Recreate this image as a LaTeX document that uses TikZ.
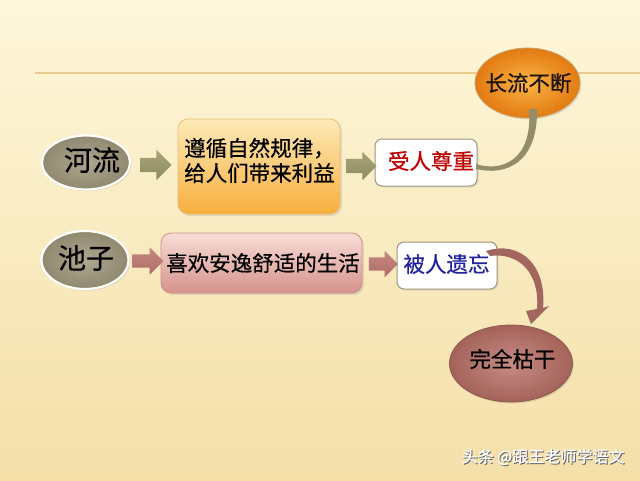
\documentclass[tikz,border=0pt]{standalone}
\usepackage{fontspec}
\setmainfont{Noto Sans CJK SC}[BoldFont={Noto Sans CJK SC}, BoldFeatures={FakeBold=0.6}]
\usetikzlibrary{shapes.geometric,shapes.arrows,shadows}
\definecolor{bgtop}{HTML}{FEF7DA}
\definecolor{bgbot}{HTML}{F4DFA8}
\definecolor{hline}{HTML}{E9C98E}
\definecolor{ovin}{HTML}{AEA68F}
\definecolor{ovout}{HTML}{90886F}
\definecolor{olive}{HTML}{8E8B60}
\definecolor{oliveL}{HTML}{A8A57A}
\definecolor{rose}{HTML}{AE6C64}
\definecolor{roseL}{HTML}{C48A82}
\definecolor{orTop}{HTML}{FDEAB8}
\definecolor{orBot}{HTML}{F8AE3C}
\definecolor{orBd}{HTML}{E9BC78}
\definecolor{pkTop}{HTML}{F7DDD6}
\definecolor{pkBot}{HTML}{D6928C}
\definecolor{pkBd}{HTML}{C99088}
\definecolor{wbd}{HTML}{9C9582}
\definecolor{redtxt}{HTML}{C00000}
\definecolor{bluetxt}{HTML}{2323A0}
\definecolor{clIn}{HTML}{FBB444}
\definecolor{clOut}{HTML}{E27A12}
\definecolor{clBd}{HTML}{C9A267}
\definecolor{kgIn}{HTML}{C68C84}
\definecolor{kgOut}{HTML}{A4625A}
\definecolor{kgBd}{HTML}{8E5A4C}
\definecolor{rib1}{HTML}{938D6C}
\definecolor{rib2}{HTML}{A2665E}
\begin{document}
\begin{tikzpicture}[x=1pt,y=-1pt,
  oval/.style={ellipse, draw=white, line width=2.2pt, inner sep=0pt,
    drop shadow={opacity=0.25, shadow xshift=1.5pt, shadow yshift=-1.5pt}},
  softoval/.style={ellipse, line width=0.8pt, inner sep=0pt,
    drop shadow={opacity=0.2, shadow xshift=1.5pt, shadow yshift=-1.5pt}},
  gradbox/.style={rectangle, rounded corners=10pt, line width=0.8pt, inner sep=0pt,
    drop shadow={opacity=0.2, shadow xshift=2pt, shadow yshift=-2pt}},
  whitebox/.style={rectangle, rounded corners=7pt, draw=wbd, fill=white, line width=1pt, inner sep=0pt,
    drop shadow={opacity=0.15, shadow xshift=1.5pt, shadow yshift=-1.5pt}},
  blockarrow/.style={single arrow, inner xsep=0pt, single arrow head indent=0pt},
  big/.style={font=\fontsize{28}{32}\selectfont\bfseries, inner sep=0pt},
  txt/.style={font=\fontsize{21.5}{25}\selectfont\bfseries, inner sep=0pt},
  wm/.style={font=\fontsize{16}{18}\selectfont\bfseries, inner sep=0pt}
]
\useasboundingbox (0,0) rectangle (640,480);
\shade[top color=bgtop, bottom color=bgbot] (0,0) rectangle (640,480);
\draw[hline, line width=1.2pt] (35,73) -- (640,73);

% left ellipses
\node[oval, minimum width=88pt, minimum height=54pt, inner color=ovin, outer color=ovout] (hl) at (86,162.5) {};
\node[big] (hlt) at (92,160) {河流};
\node[oval, minimum width=87pt, minimum height=58pt, inner color=ovin, outer color=ovout] (cz) at (85,260) {};
\node[big] (czt) at (86,258) {池子};

% boxes
\node[gradbox, minimum width=162pt, minimum height=95pt, top color=orTop, bottom color=orBot, draw=orBd] (b1) at (259,166.5) {};
\node[txt, anchor=west, align=left] (b1t) at (184,160.5) {遵循自然规律，\\给人们带来利益};
\node[gradbox, minimum width=201pt, minimum height=60pt, top color=pkTop, bottom color=pkBot, draw=pkBd] (b2) at (261.5,263) {};
\node[txt] (b2t) at (263,263) {喜欢安逸舒适的生活};

\node[whitebox, minimum width=102pt, minimum height=47pt] (sz) at (426,162.5) {};
\node[txt, text=redtxt] (szt) at (431,161) {受人尊重};
\node[whitebox, minimum width=100pt, minimum height=47pt] (yw) at (447,265.5) {};
\node[txt, text=bluetxt] (ywt) at (446.5,264) {被人遗忘};

% block arrows
\node[blockarrow, minimum height=31pt, inner ysep=7pt, single arrow head extend=8pt, top color=oliveL, bottom color=olive] (a1) at (152.5,165) {};
\node[blockarrow, minimum height=30pt, inner ysep=7pt, single arrow head extend=7pt, top color=oliveL, bottom color=olive] (a2) at (358,166) {};
\node[blockarrow, minimum height=31pt, inner ysep=6.5pt, single arrow head extend=7pt, top color=roseL, bottom color=rose] (a3) at (144.5,261) {};
\node[blockarrow, minimum height=29pt, inner ysep=6.5pt, single arrow head extend=6.5pt, top color=roseL, bottom color=rose] (a4) at (380,264) {};

% right ellipses
\node[softoval, minimum width=105pt, minimum height=70pt, inner color=clIn, outer color=clOut, draw=clBd] (cl) at (527.5,83) {};
\node[txt, text={black!85!brown}] (clt) at (528.5,83) {长流不断};
\node[softoval, minimum width=123pt, minimum height=77pt, inner color=kgIn, outer color=kgOut, draw=kgBd] (kg) at (511,363.5) {};
\node[txt] (kgt) at (512.5,359) {完全枯干};

% curved ribbons
\coordinate (r1a) at (476,164);
\coordinate (r1b) at (529,109);
\coordinate (r1c) at (537,109);
\coordinate (r1d) at (476,169);
\fill[rib1] (r1a) .. controls (500,172) and (533,162) .. (r1b) -- (r1c) .. controls (538,164) and (505,176) .. (r1d) -- cycle;

\coordinate (r2a) at (486,251);
\coordinate (r2b) at (543,308);
\coordinate (r2c) at (537,309);
\coordinate (r2d) at (490,256);
\coordinate (r2tip) at (531,324);
\fill[rib2] (r2a) .. controls (520,240) and (547,265) .. (r2b) -- (549,306) -- (r2tip) -- (526,311) -- (r2c) .. controls (540,272) and (518,252) .. (r2d) -- cycle;

% watermark
\node[wm, text=black!60] (wms) at (544,458) {头条 @跟王老师学语文};
\node[wm, text=white] (wmt) at (543,457) {头条 @跟王老师学语文};
\end{tikzpicture}
\end{document}
